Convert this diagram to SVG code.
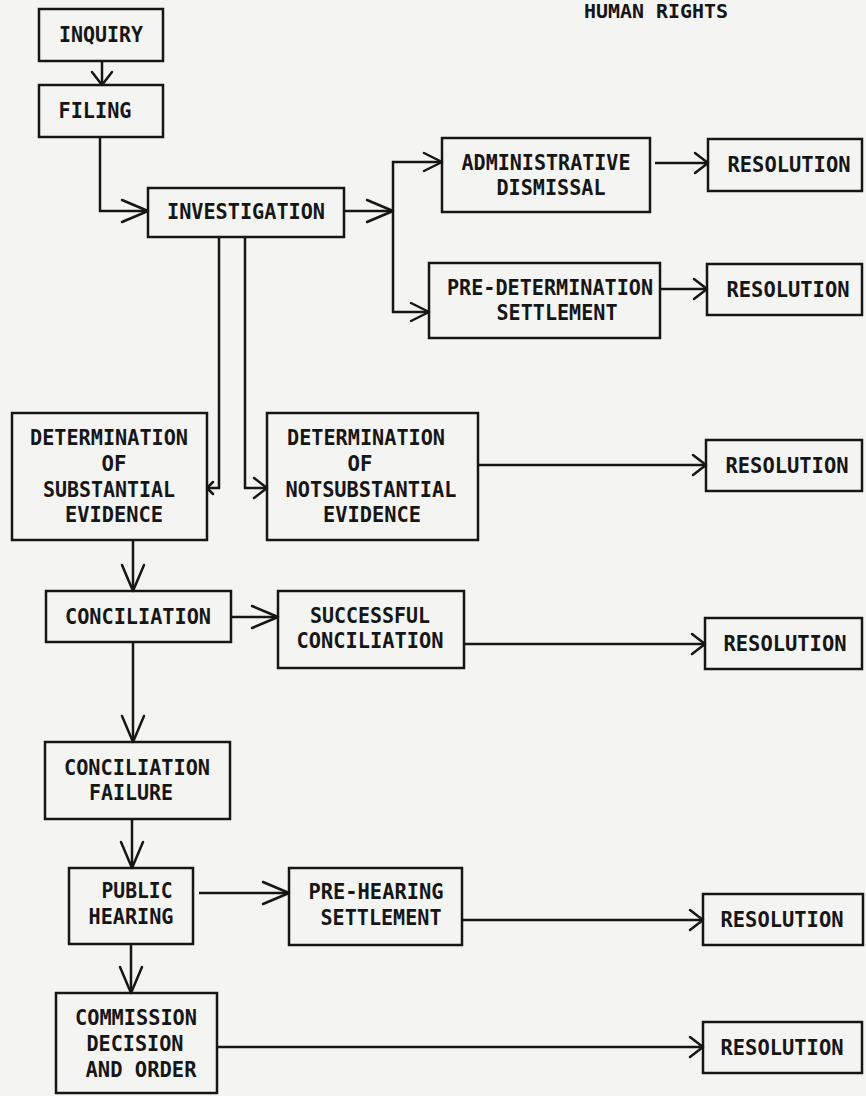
<svg xmlns="http://www.w3.org/2000/svg" width="866" height="1096" viewBox="0 0 866 1096">
<style>
.bg{fill:#f4f4f2}
.box{fill:none;stroke:#161616;stroke-width:2.5}
.t{font-family:"DejaVu Sans Mono","Liberation Mono",monospace;font-weight:bold;font-size:22px;fill:#161616;text-anchor:middle}
.c{fill:none;stroke:#161616;stroke-width:2.5}
.ah{fill:none;stroke:#161616;stroke-width:2.5;stroke-linecap:round;stroke-linejoin:round}
</style>
<defs>
<marker id="big" markerUnits="userSpaceOnUse" markerWidth="32" markerHeight="32" viewBox="-29 -16 32 32" refX="0" refY="0" orient="auto" overflow="visible"><path class="ah" d="M-26,-11 L0,0 L-26,11"/></marker>
<marker id="med" markerUnits="userSpaceOnUse" markerWidth="24" markerHeight="24" viewBox="-21 -12 24 24" refX="0" refY="0" orient="auto" overflow="visible"><path class="ah" d="M-18,-9 L0,0 L-18,9"/></marker>
<marker id="sm" markerUnits="userSpaceOnUse" markerWidth="20" markerHeight="24" viewBox="-16 -12 20 24" refX="0" refY="0" orient="auto" overflow="visible"><path class="ah" d="M-13,-10 L0,0 L-13,10"/></marker>
<marker id="tiny" markerUnits="userSpaceOnUse" markerWidth="12" markerHeight="14" viewBox="-9 -7 12 14" refX="0" refY="0" orient="auto" overflow="visible"><path class="ah" d="M-6,-6 L0,0 L-6,6"/></marker>
</defs>
<rect class="bg" x="0" y="0" width="866" height="1096"/>
<text class="t" x="656" y="18" style="font-size:20px" textLength="144" lengthAdjust="spacingAndGlyphs">HUMAN RIGHTS</text>
<g id="connectors">
<path class="c" d="M102,61 V85" marker-end="url(#sm)"/>
<path class="c" d="M100,137 V211 H148" marker-end="url(#big)"/>
<path class="c" d="M344,211 H393" marker-end="url(#big)"/>
<path class="c" d="M393,211 V162 H442" marker-end="url(#med)"/>
<path class="c" d="M393,211 V312 H429" marker-end="url(#med)"/>
<path class="c" d="M655,163 H708" marker-end="url(#sm)"/>
<path class="c" d="M660,289 H707" marker-end="url(#sm)"/>
<path class="c" d="M219,237 V488 H207" marker-end="url(#tiny)"/>
<path class="c" d="M245,237 V488 H267" marker-end="url(#sm)"/>
<path class="c" d="M478,465 H706" marker-end="url(#sm)"/>
<path class="c" d="M133,540 V591" marker-end="url(#big)"/>
<path class="c" d="M231,617 H278" marker-end="url(#big)"/>
<path class="c" d="M464,644 H705" marker-end="url(#sm)"/>
<path class="c" d="M133,642 V742" marker-end="url(#big)"/>
<path class="c" d="M132,819 V868" marker-end="url(#big)"/>
<path class="c" d="M199,893 H289" marker-end="url(#big)"/>
<path class="c" d="M462,920 H703" marker-end="url(#sm)"/>
<path class="c" d="M131,944 V993" marker-end="url(#big)"/>
<path class="c" d="M217,1047 H703" marker-end="url(#sm)"/>
</g>
<g id="inquiry"><rect class="box" x="39" y="9" width="124" height="52"/><text class="t" x="101" y="42" textLength="84" lengthAdjust="spacingAndGlyphs">INQUIRY</text></g>
<g id="filing"><rect class="box" x="39" y="85" width="124" height="52"/><text class="t" x="95" y="118" textLength="73" lengthAdjust="spacingAndGlyphs">FILING</text></g>
<g id="investigation"><rect class="box" x="148" y="188" width="196" height="49"/><text class="t" x="246" y="219" textLength="158" lengthAdjust="spacingAndGlyphs">INVESTIGATION</text></g>
<g id="admin-dismissal"><rect class="box" x="442" y="138" width="208" height="74"/><text class="t" x="546" y="170" textLength="169" lengthAdjust="spacingAndGlyphs">ADMINISTRATIVE</text><text class="t" x="551" y="195" textLength="109" lengthAdjust="spacingAndGlyphs">DISMISSAL</text></g>
<g id="resolution-1"><rect class="box" x="708" y="139" width="154" height="52"/><text class="t" x="789" y="172" textLength="123" lengthAdjust="spacingAndGlyphs">RESOLUTION</text></g>
<g id="pre-determination"><rect class="box" x="429" y="263" width="231" height="75"/><text class="t" x="550" y="295" textLength="206" lengthAdjust="spacingAndGlyphs">PRE-DETERMINATION</text><text class="t" x="557" y="320" textLength="121" lengthAdjust="spacingAndGlyphs">SETTLEMENT</text></g>
<g id="resolution-2"><rect class="box" x="707" y="264" width="155" height="51"/><text class="t" x="788" y="297" textLength="123" lengthAdjust="spacingAndGlyphs">RESOLUTION</text></g>
<g id="det-substantial"><rect class="box" x="12" y="413" width="195" height="127"/><text class="t" x="109" y="445" textLength="158" lengthAdjust="spacingAndGlyphs">DETERMINATION</text><text class="t" x="114" y="471" textLength="25" lengthAdjust="spacingAndGlyphs">OF</text><text class="t" x="109" y="497" textLength="132" lengthAdjust="spacingAndGlyphs">SUBSTANTIAL</text><text class="t" x="114" y="522" textLength="98" lengthAdjust="spacingAndGlyphs">EVIDENCE</text></g>
<g id="det-notsubstantial"><rect class="box" x="267" y="413" width="211" height="127"/><text class="t" x="366" y="445" textLength="158" lengthAdjust="spacingAndGlyphs">DETERMINATION</text><text class="t" x="360" y="471" textLength="25" lengthAdjust="spacingAndGlyphs">OF</text><text class="t" x="371" y="497" textLength="171" lengthAdjust="spacingAndGlyphs">NOTSUBSTANTIAL</text><text class="t" x="372" y="522" textLength="98" lengthAdjust="spacingAndGlyphs">EVIDENCE</text></g>
<g id="resolution-3"><rect class="box" x="706" y="440" width="156" height="51"/><text class="t" x="787" y="473" textLength="123" lengthAdjust="spacingAndGlyphs">RESOLUTION</text></g>
<g id="conciliation"><rect class="box" x="46" y="591" width="185" height="51"/><text class="t" x="138" y="624" textLength="146" lengthAdjust="spacingAndGlyphs">CONCILIATION</text></g>
<g id="successful-conciliation"><rect class="box" x="278" y="591" width="186" height="77"/><text class="t" x="370" y="623" textLength="120" lengthAdjust="spacingAndGlyphs">SUCCESSFUL</text><text class="t" x="370" y="648" textLength="147" lengthAdjust="spacingAndGlyphs">CONCILIATION</text></g>
<g id="resolution-4"><rect class="box" x="705" y="618" width="157" height="51"/><text class="t" x="785" y="651" textLength="123" lengthAdjust="spacingAndGlyphs">RESOLUTION</text></g>
<g id="conciliation-failure"><rect class="box" x="45" y="742" width="185" height="77"/><text class="t" x="137" y="775" textLength="146" lengthAdjust="spacingAndGlyphs">CONCILIATION</text><text class="t" x="131" y="800" textLength="84" lengthAdjust="spacingAndGlyphs">FAILURE</text></g>
<g id="public-hearing"><rect class="box" x="69" y="868" width="124" height="76"/><text class="t" x="137" y="898" textLength="71" lengthAdjust="spacingAndGlyphs">PUBLIC</text><text class="t" x="131" y="924" textLength="85" lengthAdjust="spacingAndGlyphs">HEARING</text></g>
<g id="pre-hearing"><rect class="box" x="289" y="868" width="173" height="77"/><text class="t" x="376" y="899" textLength="135" lengthAdjust="spacingAndGlyphs">PRE-HEARING</text><text class="t" x="381" y="925" textLength="121" lengthAdjust="spacingAndGlyphs">SETTLEMENT</text></g>
<g id="resolution-5"><rect class="box" x="703" y="894" width="160" height="51"/><text class="t" x="782" y="927" textLength="123" lengthAdjust="spacingAndGlyphs">RESOLUTION</text></g>
<g id="commission"><rect class="box" x="56" y="993" width="161" height="100"/><text class="t" x="136" y="1025" textLength="122" lengthAdjust="spacingAndGlyphs">COMMISSION</text><text class="t" x="135" y="1051" textLength="97" lengthAdjust="spacingAndGlyphs">DECISION</text><text class="t" x="141" y="1077" textLength="111" lengthAdjust="spacingAndGlyphs">AND ORDER</text></g>
<g id="resolution-6"><rect class="box" x="703" y="1022" width="159" height="51"/><text class="t" x="782" y="1055" textLength="123" lengthAdjust="spacingAndGlyphs">RESOLUTION</text></g>
</svg>
